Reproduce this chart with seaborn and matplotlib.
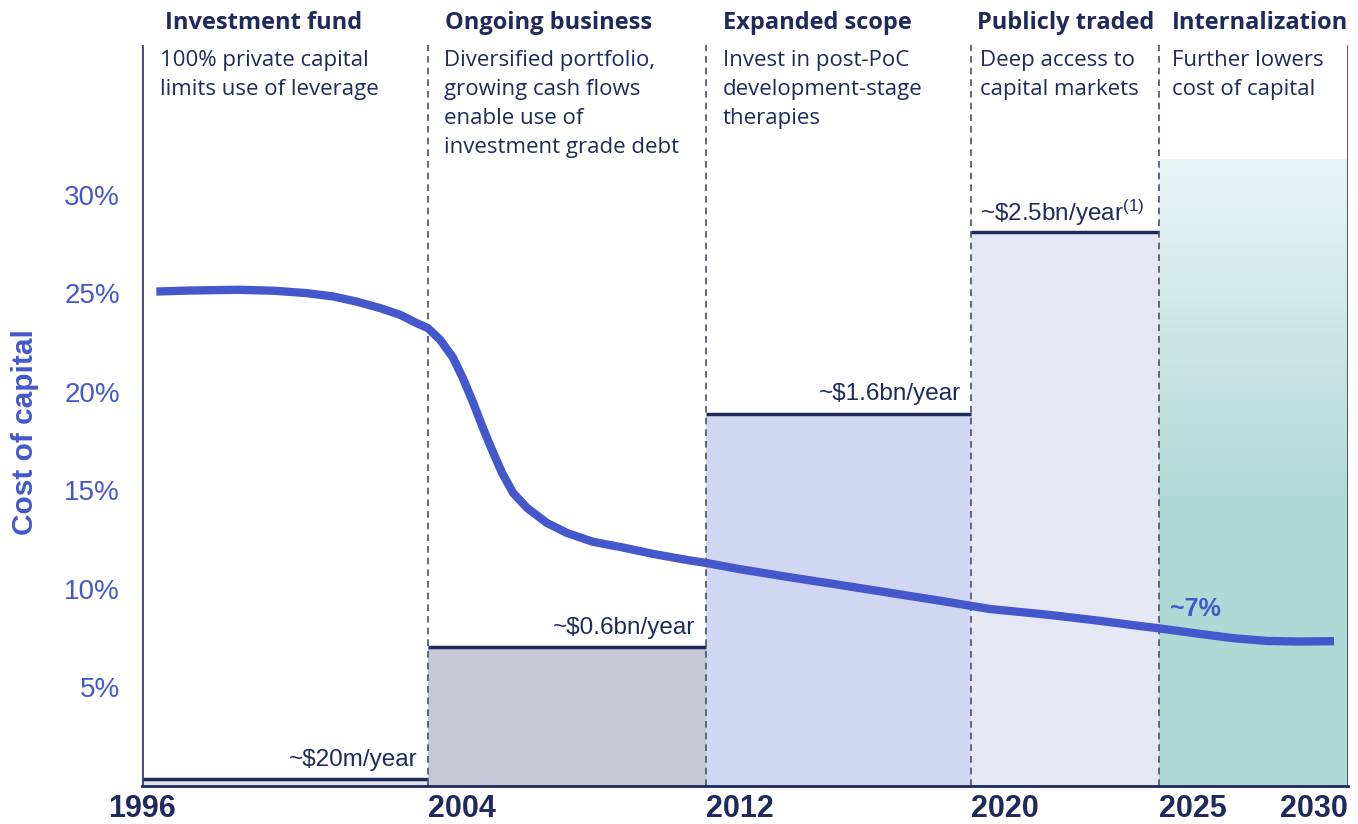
import numpy as np
import matplotlib
matplotlib.use("Agg")
import matplotlib.pyplot as plt
import seaborn as sns

# --- data ---
edge_years = [1996, 2004, 2012, 2020, 2025, 2030]
year_labels = ["1996", "2004", "2012", "2020", "2025", "2030"]

phase_titles = ["Investment fund", "Ongoing business", "Expanded scope",
                "Publicly traded", "Internalization"]
phase_notes = [
    "100% private capital\nlimits use of leverage",
    "Diversified portfolio,\ngrowing cash flows\nenable use of\ninvestment grade debt",
    "Invest in post-PoC\ndevelopment-stage\ntherapies",
    "Deep access to\ncapital markets",
    "Further lowers\ncost of capital",
]

# annual investment bars (height on the same % scale as drawn)
bar_heights = [0.35, 7.05, 18.9, 28.1]
bar_labels = ["~$20m/year", "~$0.6bn/year", "~$1.6bn/year", r"~\$2.5bn/year$^{(1)}$"]
target_height = 31.8  # shaded 2025-2030 block

curve_years = [1996.4, 1997.3, 1998.7, 1999.7, 2000.6, 2001.35, 2002.0, 2002.66,
               2003.22, 2003.68, 2004.0, 2004.35, 2004.72, 2005.0, 2005.29,
               2005.58, 2005.84, 2006.13, 2006.45, 2006.85, 2007.42, 2008.0,
               2008.75, 2009.53, 2010.47, 2011.45, 2012.0, 2013.03, 2014.54,
               2016.05, 2017.56, 2019.07, 2020.0, 2020.51, 2022.1, 2023.43,
               2024.32, 2025.0, 2026.08, 2026.96, 2027.86, 2028.75, 2029.63]
curve_cost = [25.09, 25.14, 25.18, 25.13, 25.01, 24.84, 24.58, 24.25,
              23.91, 23.49, 23.23, 22.64, 21.73, 20.71, 19.49,
              18.17, 17.06, 15.89, 14.87, 14.11, 13.35, 12.84,
              12.39, 12.13, 11.78, 11.47, 11.32, 11.0, 10.59,
              10.2, 9.8, 9.4, 9.14, 8.98, 8.68, 8.38,
              8.16, 8.0, 7.72, 7.5, 7.36, 7.33, 7.35]

y_ticks = [5, 10, 15, 20, 25, 30]

# --- styling ---
navy = "#1f2a5c"
blue = "#4458cc"
bar_colors = ["#dfe0e8", "#c6c8d6", "#d1d6f2", "#e6e7f4"]
teal_top = np.array([0.91, 0.955, 0.955])
teal_bot = np.array([0.69, 0.847, 0.84])

# pixel widths of each period on the timeline (the axis is not linear in years)
segment_px = [286, 278, 265, 188, 189]
edge_frac = np.concatenate([[0], np.cumsum(segment_px)]) / sum(segment_px)


def fwd(x):
    return np.interp(x, edge_years, edge_frac)


def inv(x):
    return np.interp(x, edge_frac, edge_years)


sns.set_theme(style="white")
plt.rcParams["font.family"] = ["Open Sans", "DejaVu Sans"]
plt.rcParams["mathtext.default"] = "regular"
arial = ["Liberation Sans", "DejaVu Sans"]

W, H = 1358, 824
fig = plt.figure(figsize=(W / 100, H / 100), dpi=100)
ax = fig.add_axes([142 / W, (H - 786) / H, (1348 - 142) / W, (786 - 45) / H])
ax.set_xscale("function", functions=(fwd, inv))
ax.set_xlim(1996, 2030)
ax.set_ylim(0, 37.6)

# investment bars
starts = edge_years[:4]
widths = np.diff(edge_years)[:4]
ax.bar(starts, bar_heights, width=widths, align="edge", color=bar_colors,
       linewidth=0, zorder=1)
ax.hlines(bar_heights, starts, edge_years[1:5], color=navy, lw=2.5, zorder=3)

# gradient block for 2025-2030
n = 80
levels = np.linspace(0, target_height, n + 1)
for i in range(n):
    mid = (levels[i] + levels[i + 1]) / 2 / target_height
    t = min(1.0, max(0.0, (1 - mid) / 0.55))
    c = teal_top + (teal_bot - teal_top) * t
    ax.bar(2025, levels[i + 1] - levels[i] + 0.02, bottom=levels[i], width=5,
           align="edge", color=c, linewidth=0, zorder=1)

# period separators
ax.axvline(1996, color="#3d4470", lw=2, zorder=4)
ax.axvline(2030, color="#3d4470", lw=2, zorder=4)
for yr in edge_years[1:-1]:
    ax.axvline(yr, color="#4a4f6a", lw=1.2, ls=(0, (4, 3)), zorder=4)

# cost of capital curve
sns.lineplot(x=curve_years, y=curve_cost, ax=ax, color=blue, lw=6,
             sort=False, zorder=5, solid_capstyle="butt", solid_joinstyle="round")

# bar value labels
for lab, yr_end, h in zip(bar_labels, edge_years[1:5], bar_heights):
    if "(1)" in lab:
        ax.text(2020.25, h + 0.97, lab, ha="left", va="center", fontsize=17.5,
                color=navy, family=arial)
    else:
        ax.text(yr_end - 0.3, h + 0.97, lab, ha="right", va="center",
                fontsize=17.5, color=navy, family=arial)

ax.text(2025.3, 9.0, "~7%", ha="left", va="center", fontsize=18,
        fontweight="bold", color=blue, family=arial)

# phase titles and notes
title_offsets = [0.65, 0.5, 0.5, 0.15, 0.35]
note_offsets = [0.5, 0.45, 0.5, 0.25, 0.35]
for i in range(5):
    ax.text(edge_years[i] + title_offsets[i], 1.030, phase_titles[i],
            transform=ax.get_xaxis_transform(), ha="left", va="center",
            fontsize=17, fontweight="bold", color=navy, clip_on=False)
    ax.text(edge_years[i] + note_offsets[i], 0.993, phase_notes[i],
            transform=ax.get_xaxis_transform(), ha="left", va="top",
            fontsize=16, color=navy, linespacing=1.5)

# axes styling
for side in ["left", "right", "top"]:
    ax.spines[side].set_visible(False)
ax.spines["bottom"].set_color(navy)
ax.spines["bottom"].set_linewidth(2)
ax.spines["bottom"].set_zorder(6)

ax.set_yticks(y_ticks)
ax.set_yticklabels([f"{v}%" for v in y_ticks], color=blue, fontsize=20,
                   family=arial)
ax.tick_params(axis="y", length=0, pad=16)

ax.set_xticks(edge_years)
ax.set_xticklabels(year_labels, fontsize=22, fontweight="bold", color=navy,
                   family=arial)
ax.tick_params(axis="x", length=0, pad=6)
aligns = ["center", "left", "left", "left", "left", "right"]
for lab, a in zip(ax.get_xticklabels(), aligns):
    lab.set_horizontalalignment(a)
ax.grid(False)

fig.text(25 / W, 1 - 432 / H, "Cost of capital", rotation=90, ha="center",
         va="center", fontsize=21.5, fontweight="bold", color=blue,
         family=arial)

fig.savefig("out.png", dpi=100)
